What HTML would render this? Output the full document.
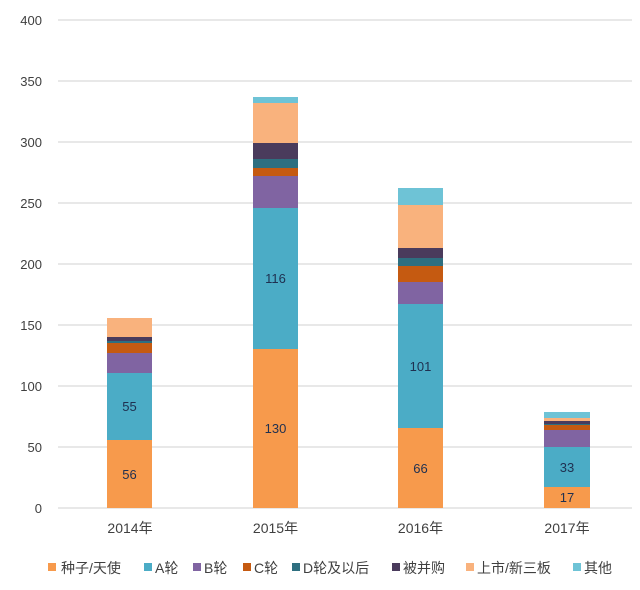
<!DOCTYPE html>
<html><head><meta charset="utf-8"><style>body{margin:0;background:#fff}</style></head><body>
<svg width="640" height="585" xmlns="http://www.w3.org/2000/svg" font-family="Liberation Sans, Noto Sans CJK SC, sans-serif">
<g stroke="#d9d9d9" stroke-width="1.2">
<line x1="58" x2="632" y1="20" y2="20"/><line x1="58" x2="632" y1="81" y2="81"/><line x1="58" x2="632" y1="142" y2="142"/><line x1="58" x2="632" y1="203" y2="203"/><line x1="58" x2="632" y1="264" y2="264"/><line x1="58" x2="632" y1="325" y2="325"/><line x1="58" x2="632" y1="386" y2="386"/><line x1="58" x2="632" y1="447" y2="447"/><line x1="58" x2="632" y1="508" y2="508"/>
</g>
<g font-size="13" fill="#404040" text-anchor="end">
<text x="42" y="25">400</text><text x="42" y="86">350</text><text x="42" y="147">300</text><text x="42" y="208">250</text><text x="42" y="269">200</text><text x="42" y="330">150</text><text x="42" y="391">100</text><text x="42" y="452">50</text><text x="42" y="513">0</text>
</g>
<rect x="107" y="440" width="45" height="68" fill="#f79a4c"/>
<rect x="107" y="373" width="45" height="67" fill="#4bacc6"/>
<rect x="107" y="353" width="45" height="20" fill="#8064a2"/>
<rect x="107" y="343" width="45" height="10" fill="#c55a11"/>
<rect x="107" y="341" width="45" height="2" fill="#2e6f80"/>
<rect x="107" y="337" width="45" height="4" fill="#4a3b5c"/>
<rect x="107" y="318" width="45" height="19" fill="#f9b27d"/>
<rect x="253" y="349" width="45" height="159" fill="#f79a4c"/>
<rect x="253" y="208" width="45" height="141" fill="#4bacc6"/>
<rect x="253" y="176" width="45" height="32" fill="#8064a2"/>
<rect x="253" y="168" width="45" height="8" fill="#c55a11"/>
<rect x="253" y="159" width="45" height="9" fill="#2e6f80"/>
<rect x="253" y="143" width="45" height="16" fill="#4a3b5c"/>
<rect x="253" y="103" width="45" height="40" fill="#f9b27d"/>
<rect x="253" y="97" width="45" height="6" fill="#6ec3d6"/>
<rect x="398" y="428" width="45" height="80" fill="#f79a4c"/>
<rect x="398" y="304" width="45" height="124" fill="#4bacc6"/>
<rect x="398" y="282" width="45" height="22" fill="#8064a2"/>
<rect x="398" y="266" width="45" height="16" fill="#c55a11"/>
<rect x="398" y="258" width="45" height="8" fill="#2e6f80"/>
<rect x="398" y="248" width="45" height="10" fill="#4a3b5c"/>
<rect x="398" y="205" width="45" height="43" fill="#f9b27d"/>
<rect x="398" y="188" width="45" height="17" fill="#6ec3d6"/>
<rect x="544" y="487" width="46" height="21" fill="#f79a4c"/>
<rect x="544" y="447" width="46" height="40" fill="#4bacc6"/>
<rect x="544" y="430" width="46" height="17" fill="#8064a2"/>
<rect x="544" y="425" width="46" height="5" fill="#c55a11"/>
<rect x="544" y="424" width="46" height="1" fill="#2e6f80"/>
<rect x="544" y="421" width="46" height="3" fill="#4a3b5c"/>
<rect x="544" y="418" width="46" height="3" fill="#f9b27d"/>
<rect x="544" y="412" width="46" height="6" fill="#6ec3d6"/>
<g font-size="13" fill="#1f3050" text-anchor="middle">
<text x="129.5" y="479">56</text><text x="129.5" y="411">55</text>
<text x="275.5" y="433">130</text><text x="275.5" y="283">116</text>
<text x="420.5" y="473">66</text><text x="420.5" y="371">101</text>
<text x="567" y="502">17</text><text x="567" y="472">33</text>
</g>
<g font-size="14" fill="#404040" text-anchor="middle">
<text x="130" y="533">2014年</text><text x="275.5" y="533">2015年</text><text x="420.5" y="533">2016年</text><text x="567" y="533">2017年</text>
</g>
<g font-size="14" fill="#404040">
<rect x="48" y="563" width="8" height="8" fill="#f79a4c"/><text x="61" y="573">种子/天使</text>
<rect x="144" y="563" width="8" height="8" fill="#4bacc6"/><text x="155" y="573">A轮</text>
<rect x="193" y="563" width="8" height="8" fill="#8064a2"/><text x="204" y="573">B轮</text>
<rect x="243" y="563" width="8" height="8" fill="#c55a11"/><text x="254" y="573">C轮</text>
<rect x="292" y="563" width="8" height="8" fill="#2e6f80"/><text x="303" y="573">D轮及以后</text>
<rect x="392" y="563" width="8" height="8" fill="#4a3b5c"/><text x="403" y="573">被并购</text>
<rect x="466" y="563" width="8" height="8" fill="#f9b27d"/><text x="477" y="573">上市/新三板</text>
<rect x="573" y="563" width="8" height="8" fill="#6ec3d6"/><text x="584" y="573">其他</text>
</g>
</svg>
</body></html>
